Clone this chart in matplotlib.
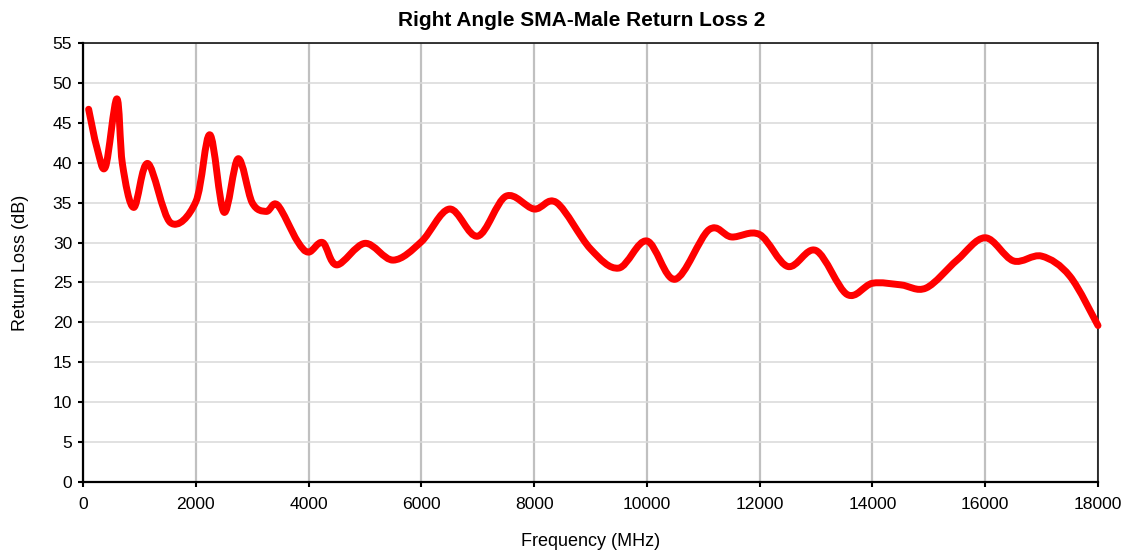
import numpy as np
import matplotlib
matplotlib.use("Agg")
from matplotlib import pyplot as plt
from matplotlib.path import Path
from matplotlib.patches import PathPatch

freq_mhz = [100, 250, 400, 600, 700, 900, 1150, 1550, 2000, 2250, 2500, 2750,
            3000, 3250, 3450, 3800, 4000, 4250, 4500, 5000, 5500, 6000, 6500,
            7000, 7500, 8000, 8400, 9000, 9500, 10000, 10500, 11100, 11500,
            12000, 12500, 13000, 13550, 14000, 14500, 14950, 15500, 16000,
            16500, 17000, 17500, 18000]
return_loss_db = [46.7, 41.8, 39.5, 48.0, 39.8, 34.4, 39.9, 32.5, 35.1, 43.5,
                  33.8, 40.5, 35.0, 33.9, 34.7, 30.2, 28.8, 30.0, 27.2, 29.9,
                  27.8, 30.1, 34.2, 30.8, 35.8, 34.2, 35.0, 29.2, 26.8, 30.2,
                  25.4, 31.6, 30.7, 31.0, 27.0, 29.0, 23.5, 24.9, 24.7, 24.3,
                  27.8, 30.6, 27.7, 28.3, 25.8, 19.6]

x_ticks = np.arange(0, 18001, 2000)
y_ticks = np.arange(0, 56, 5)

plt.rcParams['font.family'] = ['Liberation Sans', 'DejaVu Sans']

fig = plt.figure(figsize=(11.25, 5.5), dpi=100)
ax = fig.add_axes([83 / 1125, 68 / 550, 1015 / 1125, 439 / 550])


def smooth_path(xs, ys):
    # excel style smoothed line: catmull-rom segments as cubic beziers
    pts = np.column_stack([xs, ys]).astype(float)
    ext = np.vstack([pts[0], pts, pts[-1]])
    verts = [pts[0]]
    codes = [Path.MOVETO]
    for i in range(1, len(ext) - 2):
        p0, p1, p2, p3 = ext[i - 1], ext[i], ext[i + 1], ext[i + 2]
        verts += [p1 + (p2 - p0) / 6, p2 - (p3 - p1) / 6, p2]
        codes += [Path.CURVE4] * 3
    return Path(verts, codes)


line = PathPatch(smooth_path(freq_mhz, return_loss_db), fill=False,
                 edgecolor="#ff0000", linewidth=5.0, capstyle="round",
                 joinstyle="round", clip_on=False, zorder=3)
ax.add_patch(line)

ax.set_xlim(0, 18000)
ax.set_ylim(0, 55)
ax.set_xticks(x_ticks)
ax.set_yticks(y_ticks)

# grid: vertical lines darker than horizontal ones
ax.xaxis.grid(True, color="#c0c0c0", linewidth=1.6)
ax.yaxis.grid(True, color="#d9d9d9", linewidth=1.1)
ax.set_axisbelow(True)

for side in ["left", "bottom"]:
    ax.spines[side].set_linewidth(1.6)
for side in ["top", "right"]:
    ax.spines[side].set_linewidth(1.1)

ax.tick_params(direction="out", length=3.8, width=1.5, labelsize=12.6, pad=4)
ax.tick_params(axis="x", pad=7)

ax.set_xlabel("Frequency (MHz)", fontsize=13, labelpad=15)
ax.set_ylabel("Return Loss (dB)", fontsize=13, labelpad=17)
fig.text(582 / 1125, 1 - 20 / 550, "Right Angle SMA-Male Return Loss 2",
         ha="center", va="center", fontsize=15, fontweight="bold")

fig.savefig("out.png", dpi=100)
